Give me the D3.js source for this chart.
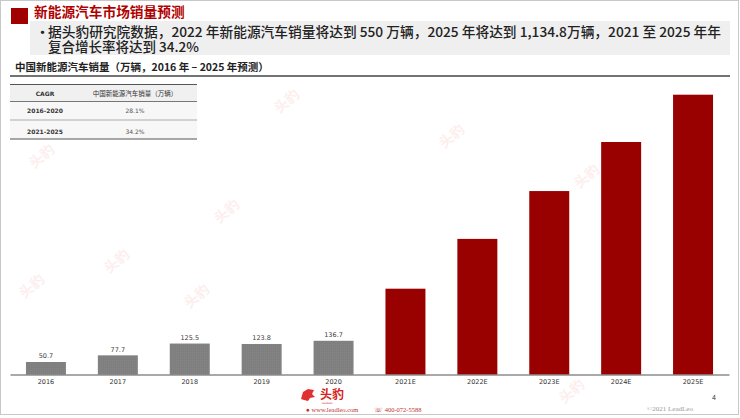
<!DOCTYPE html>
<html><head><meta charset="utf-8">
<script src="https://cdn.jsdelivr.net/npm/d3@7"></script>
<style>body{margin:0;background:#fff}svg{display:block}</style>
</head><body>
<script>
const years = ["2016","2017","2018","2019","2020","2021E","2022E","2023E","2024E","2025E"];
const sales = [50.7,77.7,125.5,123.8,136.7,348,550,744,943,1134.8];
const labels = ["50.7","77.7","125.5","123.8","136.7","","","","",""];
const isForecast = [false,false,false,false,false,true,true,true,true,true];
const cagrPeriods = ["2016-2020","2021-2025"];
const cagrValues = ["28.1%","34.2%"];

const W=740,H=418;
const svg=d3.select("body").append("svg").attr("width",W).attr("height",H);
const cjk='"Noto Sans CJK SC","Noto Sans",sans-serif';

// frame
svg.append("rect").attr("x",0.5).attr("y",0.5).attr("width",W-2).attr("height",H-4)
  .attr("fill","#fff").attr("stroke","#c8c8c8");

// faint watermarks
const wm=[[45,160],[35,290],[230,215],[290,105],[455,140],[590,180],[200,300],[575,395],[120,265]];
wm.forEach(([x,y])=>{
  svg.append("text").attr("transform",`translate(${x},${y}) rotate(-40)`)
    .attr("font-family",cjk).attr("font-size",14).attr("font-weight","bold")
    .attr("fill","#fdeeee").attr("text-anchor","middle").text("头豹");
});

// header
svg.append("rect").attr("x",30).attr("y",21).attr("width",700).attr("height",34).attr("fill","#efefef");
svg.append("rect").attr("x",11).attr("y",8).attr("width",17).attr("height",16).attr("fill","#a00000");
svg.append("text").attr("x",34).attr("y",17).attr("font-family",cjk).attr("font-size",13.7)
  .attr("font-weight","bold").attr("fill","#b00000").text("新能源汽车市场销量预测");
svg.append("text").attr("x",36).attr("y",37).attr("font-family",cjk).attr("font-size",13)
  .attr("font-weight","bold").attr("fill","#222").text("•");
const bullet=svg.append("text").attr("font-family",cjk).attr("font-size",13.5)
  .attr("font-weight","500").attr("fill","#222");
bullet.append("tspan").attr("x",48).attr("y",37)
  .attr("textLength",673).attr("lengthAdjust","spacingAndGlyphs")
  .text("据头豹研究院数据，2022 年新能源汽车销量将达到 550 万辆，2025 年将达到 1,134.8万辆，2021 至 2025 年年");
bullet.append("tspan").attr("x",48).attr("y",51.5).text("复合增长率将达到 34.2%");

// subtitle
svg.append("text").attr("x",15).attr("y",71).attr("font-family",cjk).attr("font-size",10.5)
  .attr("font-weight","bold").attr("fill","#222").text("中国新能源汽车销量（万辆，2016 年 – 2025 年预测）");
svg.append("line").attr("x1",10).attr("x2",730).attr("y1",76).attr("y2",76).attr("stroke","#444").attr("stroke-width",1.5);

// table
const tx0=10,tx1=197,colMid=[45,135];
svg.append("rect").attr("x",tx0).attr("y",85).attr("width",tx1-tx0).attr("height",16).attr("fill","#f0f0f0");
svg.append("rect").attr("x",tx0).attr("y",102).attr("width",tx1-tx0).attr("height",37).attr("fill","#f7f7f7");
[[84.5,"#555",1.2],[101.5,"#777",1],[120,"#999",0.8],[139,"#555",1.2]].forEach(([y,c,w])=>
  svg.append("line").attr("x1",tx0).attr("x2",tx1).attr("y1",y).attr("y2",y).attr("stroke",c).attr("stroke-width",w));
svg.append("text").attr("x",colMid[0]).attr("y",96).attr("text-anchor","middle").attr("font-family","DejaVu Sans")
  .attr("font-size",6).attr("font-weight","bold").attr("fill","#333").text("CAGR");
svg.append("text").attr("x",colMid[1]).attr("y",96).attr("text-anchor","middle").attr("font-family",cjk)
  .attr("font-size",6.5).attr("fill","#333").text("中国新能源汽车销量（万辆）");
cagrPeriods.forEach((p,i)=>{
  const y=[113,134][i];
  svg.append("text").attr("x",colMid[0]).attr("y",y).attr("text-anchor","middle").attr("font-family","DejaVu Sans")
    .attr("font-size",6).attr("font-weight","bold").attr("fill","#333").text(p);
  svg.append("text").attr("x",colMid[1]).attr("y",y).attr("text-anchor","middle").attr("font-family","DejaVu Sans")
    .attr("font-size",6).attr("fill","#555").text(cagrValues[i]);
});

// chart
const base=374.5;
const x=d3.scaleBand().domain(years).range([10,729]).paddingInner(0.444).paddingOuter(0.222);
const y=d3.scaleLinear().domain([0,1134.8]).range([base,94.7]);

const defs=svg.append("defs");
const pat=defs.append("pattern").attr("id","dots").attr("width",2).attr("height",2).attr("patternUnits","userSpaceOnUse");
pat.append("rect").attr("width",2).attr("height",2).attr("fill","#7f7f7f");
pat.append("rect").attr("width",1).attr("height",1).attr("fill","#858585");

svg.append("g").selectAll("rect").data(years).join("rect")
  .attr("x",d=>x(d)).attr("width",x.bandwidth())
  .attr("y",(d,i)=>y(sales[i])).attr("height",(d,i)=>base-y(sales[i]))
  .attr("fill",(d,i)=>isForecast[i]?"#990000":"url(#dots)");

svg.append("g").selectAll("text").data(years).join("text")
  .attr("x",d=>x(d)+x.bandwidth()/2).attr("y",(d,i)=>y(sales[i])-3.5)
  .attr("text-anchor","middle").attr("font-family","DejaVu Sans").attr("font-size",6.5)
  .attr("fill","#404040").text((d,i)=>labels[i]);

const ax=svg.append("g").attr("transform",`translate(0,${base})`).call(d3.axisBottom(x).tickSize(0).tickPadding(5));
ax.select(".domain").attr("stroke","#555").attr("stroke-width",1.2);
ax.selectAll("text").attr("font-family","DejaVu Sans").attr("font-size",6.5).attr("fill","#333");

// footer logo
const logo=svg.append("g").attr("transform","translate(308,395)");
logo.append("path").attr("d","M-7,4 L-5,-3 L0,-6 L6,-5 L4,-1 L7,2 L2,3 L0,6 L-4,5 Z").attr("fill","#e03030");
svg.append("text").attr("x",320).attr("y",399).attr("font-family",cjk).attr("font-size",12)
  .attr("font-weight","bold").attr("fill","#d92020").text("头豹");
svg.append("text").attr("x",322).attr("y",403.5).attr("font-family","DejaVu Sans").attr("font-size",2.5)
  .attr("fill","#d92020").text("LeadLeo");
svg.append("text").attr("x",306).attr("y",412).attr("font-family","Liberation Serif").attr("font-size",6.5)
  .attr("fill","#c03030").text("● www.leadleo.com");
svg.append("text").attr("x",374).attr("y",412).attr("font-family","Liberation Serif").attr("font-size",6.5)
  .attr("fill","#c03030").text("☏ 400-072-5588");
svg.append("text").attr("x",712).attr("y",400).attr("font-family","Liberation Sans").attr("font-size",7)
  .attr("fill","#333").text("4");
svg.append("text").attr("x",647).attr("y",411).attr("font-family","Liberation Serif").attr("font-size",7)
  .attr("fill","#999").text("©2021 LeadLeo");
</script>
</body></html>
